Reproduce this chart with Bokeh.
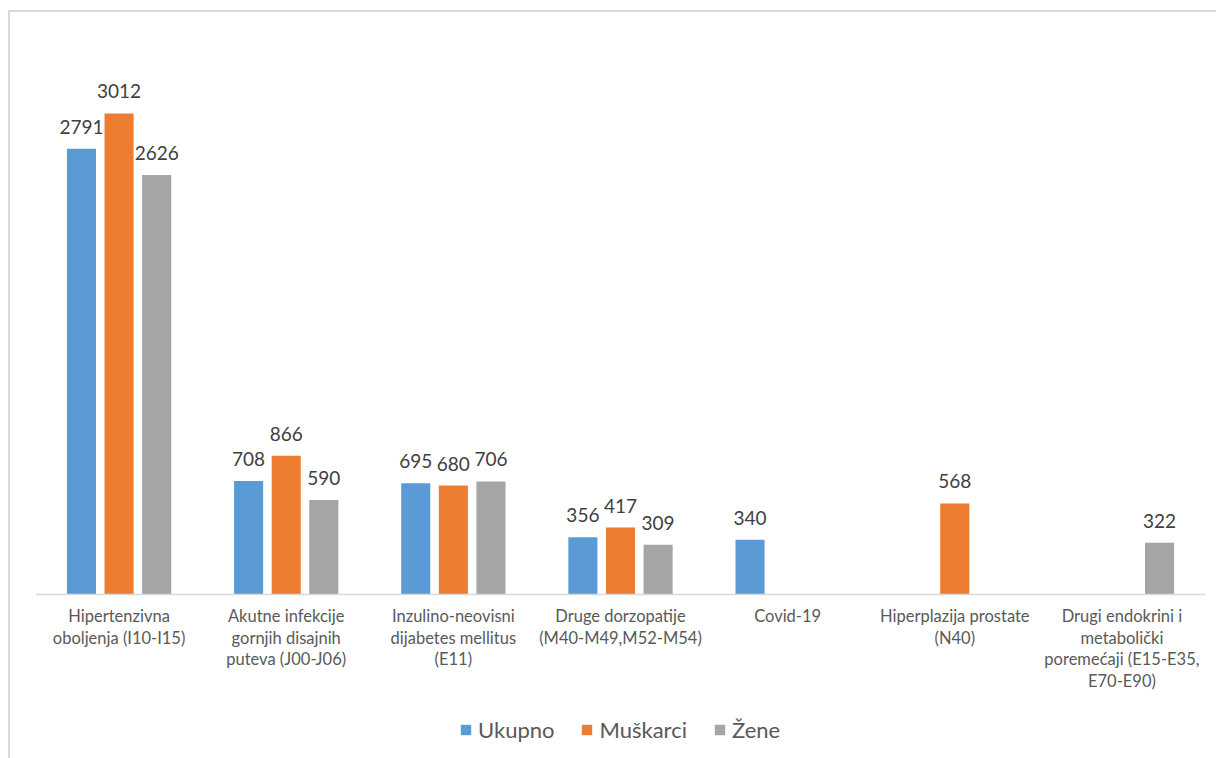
import numpy as np
from bokeh.plotting import figure
from bokeh.models import ColumnDataSource, FactorRange, Range1d, Legend, LegendItem
from bokeh.transform import dodge
from bokeh.core.properties import value
from bokeh.embed import file_html
from bokeh.resources import INLINE

categories = [
    "Hipertenzivna\noboljenja (I10-I15)",
    "Akutne infekcije\ngornjih disajnih\nputeva (J00-J06)",
    "Inzulino-neovisni\ndijabetes mellitus\n(E11)",
    "Druge dorzopatije\n(M40-M49,M52-M54)",
    "Covid-19",
    "Hiperplazija prostate\n(N40)",
    "Drugi endokrini i\nmetabolički\nporemećaji (E15-E35,\nE70-E90)",
]
ukupno = [2791, 708, 695, 356, 340, np.nan, np.nan]
muskarci = [3012, 866, 680, 417, np.nan, 568, np.nan]
zene = [2626, 590, 706, 309, np.nan, np.nan, 322]
series_names = ["Ukupno", "Muškarci", "Žene"]
colors = ["#5B9BD5", "#ED7D31", "#A5A5A5"]

FONT = "Lato"

p = figure(
    x_range=FactorRange(*categories, range_padding=0),
    y_range=Range1d(-1043, 3500),
    width=1208, height=748,
    output_backend="svg", toolbar_location=None,
    min_border_left=25, min_border_right=13, min_border_top=23, min_border_bottom=0,
)
p.margin = (10, 0, 0, 8)
p.styles = {"border-top": "2px solid #d9d9d9", "border-left": "2px solid #d9d9d9", "box-sizing": "border-box"}
p.outline_line_color = None
p.grid.visible = False
p.yaxis.visible = False
p.xaxis.fixed_location = 0
p.xaxis.axis_line_color = "#D9D9D9"
p.xaxis.axis_line_width = 1.5
p.xaxis.major_tick_line_color = None
p.xaxis.minor_tick_line_color = None
p.xaxis.major_label_text_font = FONT
p.xaxis.major_label_text_font_size = "16.5px"
p.xaxis.major_label_text_color = "#595959"
p.xaxis.major_label_text_line_height = 1.08
p.xaxis.major_label_standoff = 6

offsets = [-0.225, 0.0, 0.225]
renderers = []
for name, vals, col, off in zip(series_names, [ukupno, muskarci, zene], colors, offsets):
    src = ColumnDataSource(dict(
        x=categories,
        top=vals,
        lab=["" if np.isnan(v) else str(int(v)) for v in vals],
    ))
    r = p.vbar(x=dodge("x", off, range=p.x_range), top="top", width=0.174, source=src,
               fill_color=col, line_color=None)
    renderers.append(r)
    p.text(x=dodge("x", off, range=p.x_range), y="top", text="lab", source=src,
           text_font=value(FONT), text_font_size="19px", text_color="#404040",
           text_align="center", text_baseline="alphabetic", y_offset=-22)

legend = Legend(
    items=[LegendItem(label=n, renderers=[r]) for n, r in zip(series_names, renderers)],
    orientation="horizontal", location=(424, 17),
    label_text_font=FONT, label_text_font_size="22px", label_text_color="#595959",
    glyph_width=13, glyph_height=13, label_standoff=6, spacing=26,
    border_line_color=None, background_fill_alpha=0, margin=0, padding=0,
)
p.add_layout(legend, "center")

open("out.html", "w").write(file_html(p, INLINE))
